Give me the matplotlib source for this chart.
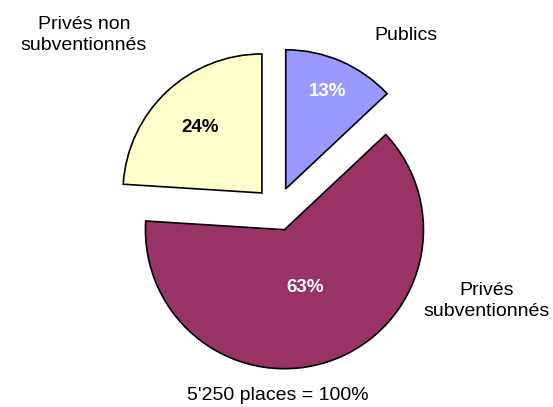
import matplotlib
matplotlib.use("Agg")
import matplotlib.pyplot as plt
import numpy as np

categories = ["Publics", "Privés subventionnés", "Privés non subventionnés"]
values = [13, 63, 24]
pct_labels = ["13%", "63%", "24%"]
colors = ["#9999FF", "#993366", "#FFFFCC"]
pct_colors = ["white", "white", "black"]
total_label = "5'250 places = 100%"

plt.rcParams['font.family'] = ['Liberation Sans', 'DejaVu Sans']

W, H = 553, 407
fig = plt.figure(figsize=(W / 100, H / 100), dpi=100)
ax = fig.add_axes([0, 0, 1, 1])

R = 139
center = (277, H - 209)
explode = [22, 22, 22]
wedges, _ = ax.pie(values, colors=colors, startangle=90, counterclock=False,
                   radius=R, center=center, explode=explode, frame=True,
                   wedgeprops=dict(edgecolor='black', linewidth=1.2))
ax.set_xlim(0, W)
ax.set_ylim(0, H)
ax.set_aspect('equal')
ax.axis('off')

pct_dist = [0.76, 0.44, 0.65]
for w, lab, col, d in zip(wedges, pct_labels, pct_colors, pct_dist):
    th = np.deg2rad((w.theta1 + w.theta2) / 2)
    cx, cy = w.center
    ax.text(cx + d * R * np.cos(th), cy + d * R * np.sin(th), lab,
            ha='center', va='center', color=col, fontsize=13.5, fontweight='bold')

fs = 14
ax.text(84, H - 35, "Privés non\nsubventionnés", ha='center', va='center',
        fontsize=fs, linespacing=1.3)
ax.text(406, H - 36, "Publics", ha='center', va='center', fontsize=fs)
ax.text(487, H - 301, "Privés\nsubventionnés", ha='center', va='center',
        fontsize=fs, linespacing=1.3)
ax.text(278, H - 396, total_label, ha='center', va='center', fontsize=fs)

fig.savefig("out.png", dpi=100)
